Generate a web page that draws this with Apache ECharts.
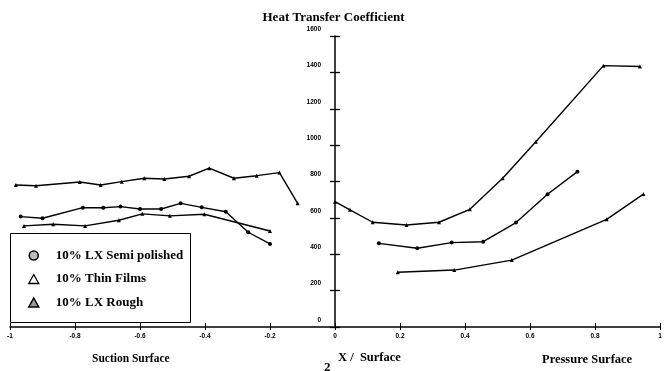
<!DOCTYPE html>
<html>
<head>
<meta charset="utf-8">
<script src="https://cdn.jsdelivr.net/npm/echarts@6/dist/echarts.min.js"></script>
<style>
  html, body { margin: 0; padding: 0; background: #fff; }
  #chart { width: 667px; height: 371px; }
</style>
</head>
<body>
<div id="chart"></div>
<script>
// Heat transfer coefficient along the blade: suction side (x < 0) and pressure side (x > 0)
const roughSuctionX   = [-0.982, -0.92, -0.785, -0.721, -0.656, -0.587, -0.525, -0.449, -0.387, -0.311, -0.241, -0.171, -0.115];
const roughSuctionY   = [781, 777, 797, 781, 799, 818, 814, 829, 873, 818, 832, 849, 680];
const roughPressureX  = [0, 0.046, 0.116, 0.22, 0.32, 0.415, 0.516, 0.618, 0.826, 0.938];
const roughPressureY  = [689, 644, 576, 561, 576, 647, 818, 1019, 1437, 1432];

const semiSuctionX    = [-0.967, -0.9, -0.776, -0.713, -0.66, -0.6, -0.535, -0.475, -0.41, -0.336, -0.267, -0.2];
const semiSuctionY    = [607, 598, 656, 656, 662, 649, 649, 680, 658, 634, 521, 457];
const semiPressureX   = [0.135, 0.253, 0.359, 0.456, 0.557, 0.654, 0.746];
const semiPressureY   = [460, 433, 464, 469, 574, 730, 854];

const filmSuctionX    = [-0.957, -0.867, -0.769, -0.665, -0.593, -0.508, -0.402, -0.2];
const filmSuctionY    = [556, 565, 556, 587, 622, 611, 620, 528];
const filmPressureX   = [0.193, 0.367, 0.544, 0.836, 0.949];
const filmPressureY   = [301, 313, 368, 592, 731];

const seriesNames = ['10% LX Semi polished', '10% Thin Films', '10% LX Rough'];
const xTickLabels = ['-1', '-0.8', '-0.6', '-0.4', '-0.2', '0', '0.2', '0.4', '0.6', '0.8', '1'];
const yTickLabels = ['0', '200', '400', '600', '800', '1000', '1200', '1400', '1600'];

// suction and pressure branches are separate runs, broken by a gap item
function branches(sx, sy, px, py) {
  const a = sx.map((x, i) => [x, sy[i]]);
  const b = px.map((x, i) => [x, py[i]]);
  return a.concat([['-', '-']], b);
}

const serif = 'Liberation Serif';
const sans = 'Liberation Sans';

// grid geometry; the vertical axis sits at x = 0, half way across
const gridLeft = 10, gridRight = 7;
const plotWidth = 667 - gridLeft - gridRight;
const yAxisShift = -plotWidth / 2;

const lineSeries = (name, symbol, data) => ({
  name, type: 'line', data,
  xAxisIndex: 0, yAxisIndex: 0,
  symbol, symbolSize: 4, showSymbol: true,
  connectNulls: false,
  lineStyle: { color: '#000', width: 1.4 },
  itemStyle: { color: '#000' },
  emphasis: { disabled: true },
  animation: false
});

const xBase = { type: 'value', min: -1, max: 1, interval: 0.2, splitLine: { show: false } };
const yBase = { type: 'value', min: 0, max: 1600, interval: 200, splitLine: { show: false } };

const chart = echarts.init(document.getElementById('chart'), null, { renderer: 'canvas' });
chart.setOption({
  backgroundColor: '#fff',
  animation: false,
  title: {
    text: 'Heat Transfer Coefficient',
    left: 'center', top: 6,
    textStyle: { fontFamily: serif, fontWeight: 'bold', fontSize: 13, color: '#000' }
  },
  grid: { left: gridLeft, right: gridRight, top: 36, bottom: 44 },
  xAxis: [
    Object.assign({}, xBase, {
      position: 'bottom',
      axisLine: { show: true, lineStyle: { color: '#000', width: 1.5 } },
      axisTick: { show: true, length: 3, lineStyle: { color: '#000', width: 1 } },
      axisLabel: {
        margin: 6, fontFamily: sans, fontWeight: 'bold', fontSize: 6.5, color: '#000',
        formatter: (v, i) => xTickLabels[i]
      }
    }),
    Object.assign({}, xBase, {
      position: 'bottom',
      axisLine: { show: false },
      axisTick: { show: true, inside: true, length: 4, lineStyle: { color: '#000', width: 1 } },
      axisLabel: { show: false }
    })
  ],
  yAxis: [
    Object.assign({}, yBase, {
      position: 'left', offset: yAxisShift,
      axisLine: { show: true, onZero: false, lineStyle: { color: '#000', width: 1.5 } },
      axisTick: { show: true, length: 5, lineStyle: { color: '#000', width: 1.3 } },
      axisLabel: {
        margin: 14, fontFamily: sans, fontWeight: 'bold', fontSize: 6.5, color: '#000',
        verticalAlign: 'bottom', lineHeight: 14,
        formatter: (v, i) => yTickLabels[i]
      }
    }),
    Object.assign({}, yBase, {
      position: 'left', offset: yAxisShift,
      axisLine: { show: false, onZero: false },
      axisTick: { show: true, inside: true, length: 5, lineStyle: { color: '#000', width: 1.3 } },
      axisLabel: { show: false }
    })
  ],
  legend: {
    orient: 'vertical',
    left: 28, top: 249,
    padding: 0,
    itemWidth: 10, itemHeight: 9, itemGap: 10.5,
    selectedMode: false,
    textStyle: { fontFamily: serif, fontWeight: 'bold', fontSize: 13, color: '#000', padding: [0, 0, 0, 12] },
    data: [
      { name: seriesNames[0], icon: 'circle', itemStyle: { color: '#bdbdbd', borderColor: '#000', borderWidth: 1.5 } },
      { name: seriesNames[1], icon: 'triangle', itemStyle: { color: '#fff', borderColor: '#000', borderWidth: 1.3 } },
      { name: seriesNames[2], icon: 'triangle', itemStyle: { color: '#9a9a9a', borderColor: '#000', borderWidth: 1.5 } }
    ]
  },
  graphic: [
    { type: 'rect', left: 10, top: 233, z: -1,
      shape: { width: 180, height: 89 },
      style: { fill: '#fff', stroke: '#000', lineWidth: 1 } },
    { type: 'text', left: 92, top: 353,
      style: { text: 'Suction Surface', fontFamily: serif, fontWeight: 'bold', fontSize: 11.5, fill: '#000' } },
    { type: 'text', left: 338, top: 351,
      style: { text: 'X /  Surface', fontFamily: serif, fontWeight: 'bold', fontSize: 12.5, fill: '#000' } },
    { type: 'text', left: 324, top: 361,
      style: { text: '2', fontFamily: serif, fontWeight: 'bold', fontSize: 13, fill: '#000' } },
    { type: 'text', left: 542, top: 353,
      style: { text: 'Pressure Surface', fontFamily: serif, fontWeight: 'bold', fontSize: 12.5, fill: '#000' } }
  ],
  series: [
    lineSeries(seriesNames[0], 'circle', branches(semiSuctionX, semiSuctionY, semiPressureX, semiPressureY)),
    lineSeries(seriesNames[1], 'triangle', branches(filmSuctionX, filmSuctionY, filmPressureX, filmPressureY)),
    lineSeries(seriesNames[2], 'triangle', branches(roughSuctionX, roughSuctionY, roughPressureX, roughPressureY))
  ]
});
</script>
</body>
</html>
